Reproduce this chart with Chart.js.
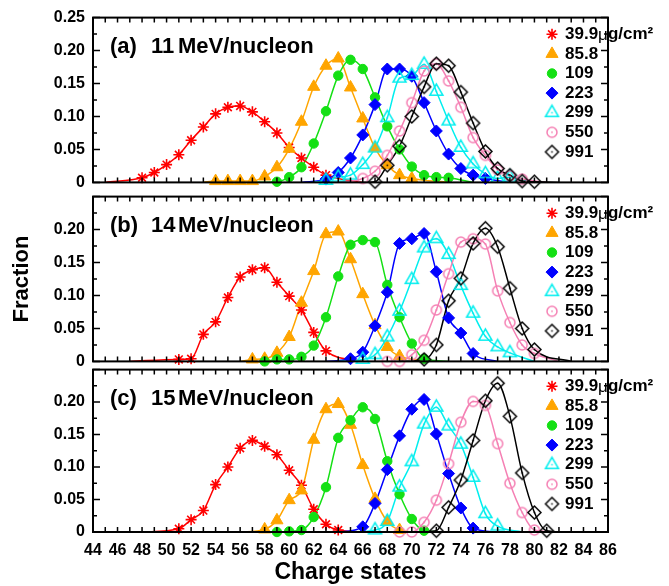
<!DOCTYPE html>
<html>
<head>
<meta charset="utf-8">
<script src="https://cdn.jsdelivr.net/npm/chart.js@4"></script>
<style>
  body { margin: 0; background: #fff; }
  #wrap { position: relative; width: 669px; height: 586px; }
  canvas { position: absolute; left: 0; }
</style>
</head>
<body>
<div id="wrap">
  <canvas id="chartA" width="669" height="200" style="top:0px"></canvas>
  <canvas id="chartB" width="669" height="200" style="top:179px"></canvas>
  <canvas id="chartC" width="669" height="234" style="top:352px"></canvas>
</div>
<script>
// legend text, one per target thickness
const seriesLabels = ['39.9', '85.8', '109', '223', '299', '550', '991'];
const unitLabel = 'μg/cm²';
const panelTags = ['(a)', '(b)', '(c)'];
const panelEnergies = ['11', '14', '15'];
const xMin = 44, xMax = 86;
const yMax = 0.25, yStep = 0.025;

// (a) 11 MeV/nucleon  -- [charge state, fraction]
const a399 = [[48,0.007],[49,0.015],[50,0.027],[51,0.042],[52,0.064],[53,0.084],[54,0.104],[55,0.114],[56,0.116],[57,0.107],[58,0.092],[59,0.075],[60,0.053],[61,0.037],[62,0.023],[63,0.011]];
const a858 = [[54,0.002],[55,0.002],[56,0.002],[57,0.002],[58,0.009],[59,0.023],[60,0.051],[61,0.092],[62,0.145],[63,0.177],[64,0.188],[65,0.144],[66,0.097],[67,0.052],[68,0.026],[69,0.011],[70,0.006]];
const a109 = [[59,0.001],[60,0.008],[61,0.023],[62,0.059],[63,0.108],[64,0.162],[65,0.186],[66,0.172],[67,0.129],[68,0.085],[69,0.050],[70,0.024],[71,0.011],[72,0.008],[73,0.007]];
const a223 = [[63,0.005],[64,0.015],[65,0.037],[66,0.072],[67,0.118],[68,0.172],[69,0.172],[70,0.161],[71,0.121],[72,0.078],[73,0.043],[74,0.021],[75,0.011],[76,0.006]];
const a299 = [[63,0.003],[64,0.008],[65,0.011],[66,0.027],[67,0.052],[68,0.098],[69,0.158],[70,0.162],[71,0.179],[72,0.138],[73,0.093],[74,0.053],[75,0.028],[76,0.013],[77,0.006],[78,0.008]];
const a550 = [[66,0.006],[67,0.017],[68,0.041],[69,0.078],[70,0.121],[71,0.169],[72,0.180],[73,0.154],[74,0.114],[75,0.068],[76,0.041],[77,0.019],[78,0.010],[79,0.005]];
const a991 = [[67,0.001],[68,0.026],[69,0.055],[70,0.100],[71,0.145],[72,0.180],[73,0.177],[74,0.137],[75,0.090],[76,0.047],[77,0.021],[78,0.011],[79,0.002],[80,0.001]];

// (b) 14 MeV/nucleon
const b399 = [[51,0.003],[52,0.004],[53,0.041],[54,0.060],[55,0.097],[56,0.128],[57,0.139],[58,0.142],[59,0.120],[60,0.099],[61,0.078],[62,0.044],[63,0.016]];
const b858 = [[57,0.003],[58,0.004],[59,0.013],[60,0.037],[61,0.089],[62,0.137],[63,0.193],[64,0.197],[65,0.155],[66,0.102],[67,0.055],[68,0.022],[69,0.008]];
const b109 = [[58,0.000],[59,0.003],[60,0.003],[61,0.007],[62,0.024],[63,0.067],[64,0.129],[65,0.177],[66,0.184],[67,0.181],[68,0.116],[69,0.067],[70,0.027],[71,0.004]];
const b223 = [[65,0.004],[66,0.014],[67,0.054],[68,0.105],[69,0.179],[70,0.186],[71,0.194],[72,0.136],[73,0.066],[74,0.043],[75,0.012]];
const b299 = [[66,0.003],[67,0.010],[68,0.037],[69,0.076],[70,0.124],[71,0.172],[72,0.186],[73,0.162],[74,0.115],[75,0.073],[76,0.038],[77,0.022],[78,0.013]];
const b550 = [[68,0.000],[69,0.000],[70,0.010],[71,0.032],[72,0.078],[73,0.133],[74,0.181],[75,0.186],[76,0.178],[77,0.107],[78,0.059],[79,0.025],[80,0.012]];
const b991 = [[71,0.003],[72,0.025],[73,0.092],[74,0.126],[75,0.179],[76,0.202],[77,0.174],[78,0.111],[79,0.050],[80,0.018]];

// (c) 15 MeV/nucleon
const c399 = [[51,0.005],[52,0.019],[53,0.033],[54,0.073],[55,0.100],[56,0.129],[57,0.141],[58,0.132],[59,0.119],[60,0.095],[61,0.072],[62,0.035],[63,0.012],[64,0.003]];
const c858 = [[58,0.004],[59,0.018],[60,0.049],[61,0.064],[62,0.142],[63,0.189],[64,0.197],[65,0.165],[66,0.103],[67,0.051],[68,0.016],[69,0.003]];
const c109 = [[59,0.000],[60,0.001],[61,0.003],[62,0.023],[63,0.069],[64,0.145],[65,0.172],[66,0.192],[67,0.174],[68,0.109],[69,0.058],[70,0.020],[71,0.002]];
const c223 = [[66,0.008],[67,0.044],[68,0.096],[69,0.148],[70,0.189],[71,0.204],[72,0.151],[73,0.090],[74,0.037],[75,0.006]];
const c299 = [[67,0.003],[68,0.016],[69,0.069],[70,0.108],[71,0.166],[72,0.192],[73,0.163],[74,0.135],[75,0.084],[76,0.028],[77,0.009]];
const c550 = [[69,0.000],[70,0.000],[71,0.015],[72,0.049],[73,0.105],[74,0.169],[75,0.201],[76,0.195],[77,0.136],[78,0.075],[79,0.030],[80,0.003]];
const c991 = [[72,0.002],[73,0.038],[74,0.080],[75,0.141],[76,0.202],[77,0.229],[78,0.178],[79,0.091],[80,0.030],[81,0.002]];

// where each fitted curve meets the axis on the left / right
const tailsA = [[45,66],[53,73],[57,75],[61,78],[62,80],[64,81],[66,82]];
const tailsB = [[47,66],[56,72],[58,73],[63,77],[64,80],[66,82],[69,83]];
const tailsC = [[48,66],[56,70],[58,73],[64,77],[65,79],[67,82],[70,83]];

const FONT = "'Liberation Sans', Arial, Helvetica, sans-serif";

const styles = [
  { color: '#ff0000', pointStyle: 'star',     radius: 5.5, filled: false, bw: 1.6 },
  { color: '#ffa500', pointStyle: 'triangle', radius: 7,   filled: true,  bw: 1 },
  { color: '#14e014', pointStyle: 'circle',   radius: 4.7, filled: true,  bw: 1 },
  { color: '#0000ff', pointStyle: 'rectRot',  radius: 6,   filled: true,  bw: 1 },
  { color: '#00eeee', pointStyle: 'triangle', radius: 7.5, filled: false, bw: 1.5, dot: true },
  { color: '#f580b4', pointStyle: 'circle',   radius: 5,   filled: false, bw: 1.5, dot: true },
  { color: '#000000', pointStyle: 'rectRot',  radius: 6.5, filled: false, bw: 1.5, dot: true }
];

// open markers carry a small dot in the middle, drawn once into a sprite
function markerSprite(st) {
  const size = Math.ceil(st.radius * 2 + 4);
  const cv = document.createElement('canvas');
  cv.width = size; cv.height = size;
  const c = cv.getContext('2d');
  c.strokeStyle = st.color;
  c.fillStyle = 'rgba(0,0,0,0)';
  c.lineWidth = st.bw;
  Chart.helpers.drawPoint(c, { pointStyle: st.pointStyle, radius: st.radius, rotation: 0, borderWidth: st.bw }, size / 2, size / 2);
  c.fillStyle = st.color;
  c.fillRect(size / 2 - 0.75, size / 2 - 0.75, 1.5, 1.5);
  return cv;
}
styles.forEach(st => {
  st.marker = (st.dot && Chart.helpers && Chart.helpers.drawPoint) ? markerSprite(st) : st.pointStyle;
});

function toXY(arr) {
  return arr.map(p => ({ x: p[0], y: p[1] }));
}

function buildDatasets(series, tails) {
  const sets = [];
  series.forEach((pts, i) => {
    const st = styles[i];
    const curve = [[tails[i][0], 0]].concat(pts, [[tails[i][1], 0]]);
    sets.push({
      data: toXY(curve),
      borderColor: st.color,
      borderWidth: 1.5,
      pointRadius: 0,
      cubicInterpolationMode: 'monotone',
      order: 20 - i
    });
    sets.push({
      data: toXY(pts),
      showLine: false,
      pointStyle: st.marker,
      pointRadius: st.radius,
      pointBorderWidth: st.bw,
      pointBorderColor: st.color,
      pointBackgroundColor: st.filled ? st.color : 'rgba(0,0,0,0)',
      clip: false,
      order: 10 - i
    });
  });
  return sets;
}

const panelDeco = {
  id: 'panelDeco',
  afterDatasetsDraw(chart) {
    const { ctx, chartArea: { left, right, top, bottom }, scales: { x, y } } = chart;
    ctx.save();
    ctx.strokeStyle = '#000';
    ctx.lineWidth = 1.5;
    ctx.beginPath();
    for (let q = xMin; q <= xMax; q++) {
      const px = x.getPixelForValue(q);
      ctx.moveTo(px, bottom); ctx.lineTo(px, bottom - 5);
      ctx.moveTo(px, top); ctx.lineTo(px, top + 5);
    }
    for (let k = 0; k * yStep <= yMax + 1e-9; k++) {
      const py = y.getPixelForValue(k * yStep);
      const len = k % 2 === 0 ? 7 : 4;
      ctx.moveTo(left, py); ctx.lineTo(left + len, py);
      ctx.moveTo(right, py); ctx.lineTo(right - len, py);
    }
    ctx.stroke();
    ctx.lineWidth = 2;
    ctx.strokeRect(left, top, right - left, bottom - top);
    ctx.restore();
  },
  afterDraw(chart, args, opts) {
    const { ctx, chartArea: { left, top } } = chart;
    ctx.save();
    ctx.fillStyle = '#000';
    ctx.textBaseline = 'alphabetic';
    ctx.font = 'bold 22px ' + FONT;
    ctx.fillText(opts.tag, left + 17, top + 35);
    ctx.fillText(opts.energy, left + 58, top + 35);
    ctx.fillText('MeV/nucleon', left + 85, top + 35);

    // legend
    const mx = 552, tx = 565;
    ctx.textBaseline = 'middle';
    seriesLabels.forEach((lab, i) => {
      const st = styles[i];
      const ly = top + 16.7 + i * 19.6;
      ctx.fillStyle = st.filled ? st.color : 'rgba(0,0,0,0)';
      ctx.strokeStyle = st.color;
      ctx.lineWidth = st.bw;
      if (Chart.helpers && Chart.helpers.drawPoint) {
        Chart.helpers.drawPoint(ctx, { pointStyle: st.marker, radius: st.radius, rotation: 0, borderWidth: st.bw }, mx, ly);
      }
      ctx.fillStyle = '#000';
      ctx.font = 'bold 17px ' + FONT;
      ctx.fillText(lab, tx, ly);
      if (i === 0) {
        let cx = tx + ctx.measureText(lab).width;
        ctx.font = '17px ' + FONT;
        ctx.fillText(unitLabel[0], cx, ly + 1);
        cx += ctx.measureText(unitLabel[0]).width;
        ctx.font = 'bold 17px ' + FONT;
        ctx.fillText(unitLabel.slice(1), cx, ly);
      }
    });
    ctx.restore();
  }
};

function yLabel(v, showTop) {
  const m = Math.round(v * 1000);
  if (m % 50 !== 0) return '';
  if (m === 0) return '0';
  if (m === 250 && !showTop) return '';
  return (m / 1000).toFixed(2);
}

function makeChart(id, series, tails, n, opt) {
  return new Chart(document.getElementById(id), {
    type: 'line',
    data: { datasets: buildDatasets(series, tails) },
    options: {
      responsive: false,
      animation: false,
      events: [],
      layout: { padding: { top: opt.padTop, bottom: opt.padBottom, left: 0, right: 61 } },
      plugins: {
        legend: { display: false },
        tooltip: { enabled: false },
        panelDeco: { tag: panelTags[n], energy: panelEnergies[n] }
      },
      scales: {
        x: {
          type: 'linear',
          min: xMin,
          max: xMax,
          display: opt.showX,
          afterFit(s) { if (opt.showX) s.height = 54; },
          grid: { display: false, drawTicks: false },
          border: { display: false },
          ticks: {
            stepSize: 1, autoSkip: false, maxRotation: 0, padding: 9, color: '#000',
            font: { family: FONT, size: 16, weight: 'bold' },
            callback: v => (v % 2 === 0 ? String(v) : '')
          },
          title: {
            display: opt.showX, text: 'Charge states', color: '#000',
            padding: { top: 0, bottom: 0 },
            font: { family: FONT, size: 23, weight: 'bold' }
          }
        },
        y: {
          min: 0,
          max: yMax,
          afterFit(s) { s.width = 93; },
          grid: { display: false, drawTicks: false },
          border: { display: false },
          ticks: {
            stepSize: yStep, autoSkip: false, padding: 8, color: '#000',
            font: { family: FONT, size: 16, weight: 'bold' },
            callback: v => yLabel(v, opt.showTop)
          },
          title: {
            display: opt.yTitle, text: 'Fraction', color: '#000',
            padding: { top: 9, bottom: 0 },
            font: { family: FONT, size: 22, weight: 'bold' }
          }
        }
      }
    },
    plugins: [panelDeco]
  });
}

makeChart('chartA', [a399, a858, a109, a223, a299, a550, a991], tailsA, 0,
  { padTop: 16, padBottom: 11, showX: false, showTop: true, yTitle: false });
makeChart('chartB', [b399, b858, b109, b223, b299, b550, b991], tailsB, 1,
  { padTop: 10, padBottom: 17, showX: false, showTop: false, yTitle: true });
makeChart('chartC', [c399, c858, c109, c223, c299, c550, c991], tailsC, 2,
  { padTop: 10, padBottom: 0, showX: true, showTop: false, yTitle: false });
</script>
</body>
</html>
